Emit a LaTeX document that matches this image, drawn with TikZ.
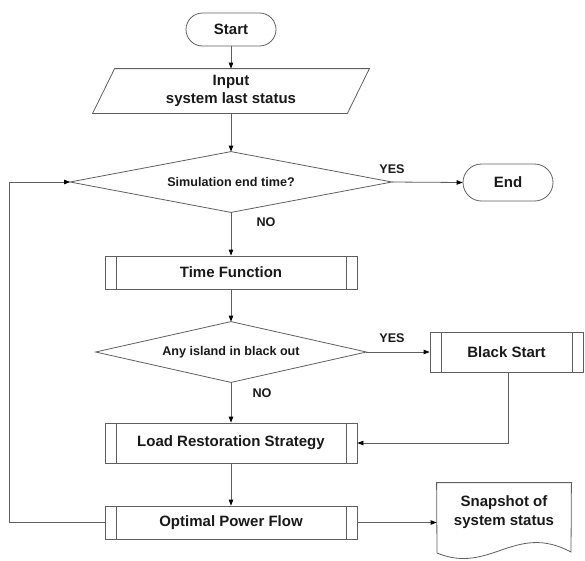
\documentclass[tikz,border=0pt]{standalone}
\usepackage{fontspec}
\setmainfont{Liberation Sans}
\usetikzlibrary{arrows.meta,shapes.misc,calc}
\definecolor{linec}{RGB}{95,95,95}
\definecolor{txt}{RGB}{25,25,25}
\tikzset{
  base/.style={line width=0.8pt, text=txt, font=\bfseries\fontsize{15}{18.5}\selectfont, align=center, inner sep=0pt},
  terminal/.style={base, rounded rectangle, draw=linec, minimum width=90pt},
  procbox/.style={base, rectangle, draw=linec,
    path picture={\draw[linec,line width=0.8pt]
      ([xshift=11pt]path picture bounding box.north west) -- ([xshift=11pt]path picture bounding box.south west)
      ([xshift=-11pt]path picture bounding box.north east) -- ([xshift=-11pt]path picture bounding box.south east);}},
  plain/.style={base, rectangle},
  small/.style={font=\bfseries\fontsize{12.6}{15}\selectfont},
  outline/.style={draw=linec, line width=0.8pt},
  conn/.style={draw=linec, line width=0.8pt, -{Triangle[length=6pt,width=4.5pt,black]}},
  lbl/.style={text=txt, font=\bfseries\fontsize{12.6}{15}\selectfont, inner sep=0pt}
}
\begin{document}
\begin{tikzpicture}[x=1pt,y=-1pt]
\useasboundingbox (0,0) rectangle (585,560);
% nodes
\node[terminal, minimum height=33pt] (start) at (231,29.5) {Start};
\node[plain, minimum width=254pt, minimum height=44pt] (inp) at (231,91) {Input\\system last status};
\draw[outline] ([xshift=11pt]inp.north west) -- ([xshift=11pt]inp.north east) -- ([xshift=-11pt]inp.south east) -- ([xshift=-11pt]inp.south west) -- cycle;
\node[plain, small, minimum width=321pt, minimum height=60pt] (d1) at (231,182) {Simulation end time?};
\draw[outline] (d1.west) -- (d1.north) -- (d1.east) -- (d1.south) -- cycle;
\node[terminal, minimum height=37pt] (end) at (508,182.5) {End};
\node[procbox, minimum width=252pt, minimum height=33pt] (tf) at (231,272.5) {Time Function};
\node[plain, small, minimum width=270pt, minimum height=60pt] (d2) at (231,352) {Any island in black out};
\draw[outline] (d2.west) -- (d2.north) -- (d2.east) -- (d2.south) -- cycle;
\node[procbox, minimum width=153pt, minimum height=40pt] (bs) at (506.5,352) {Black Start};
\node[procbox, minimum width=252pt, minimum height=40pt] (lrs) at (231,443) {Load Restoration Strategy};
\node[procbox, minimum width=252pt, minimum height=33pt] (opf) at (231,522.5) {Optimal Power Flow};
\node[plain, minimum width=134pt, minimum height=58pt] (snap) at (504,512) {Snapshot of\\system status};
\draw[outline] (snap.north west) -- (snap.north east) -- (571,552) .. controls (515,522) and (490,575) .. (437,553) -- cycle;
\coordinate (loopx) at (9,0);
% connectors
\draw[conn] (start.south) -- (inp.north);
\draw[conn] (inp.south) -- (d1.north);
\draw[conn] (d1.east) -- (end.west);
\node[lbl] (yes1) at (392,169) {YES};
\draw[conn] (d1.south) -- (tf.north);
\node[lbl] (no1) at (266,222) {NO};
\draw[conn] (tf.south) -- (d2.north);
\draw[conn] (d2.east) -- (bs.west);
\node[lbl] (yes2) at (392,338) {YES};
\draw[conn] (d2.south) -- (lrs.north);
\node[lbl] (no2) at (262,393) {NO};
\draw[conn] ([xshift=1.5pt]bs.south) |- (lrs.east);
\draw[conn] (lrs.south) -- (opf.north);
\draw[conn] (opf.west) -- (opf.west -| loopx) |- (d1.west);
\draw[conn] (opf.east) -- (opf.east -| snap.west);
\end{tikzpicture}
\end{document}
